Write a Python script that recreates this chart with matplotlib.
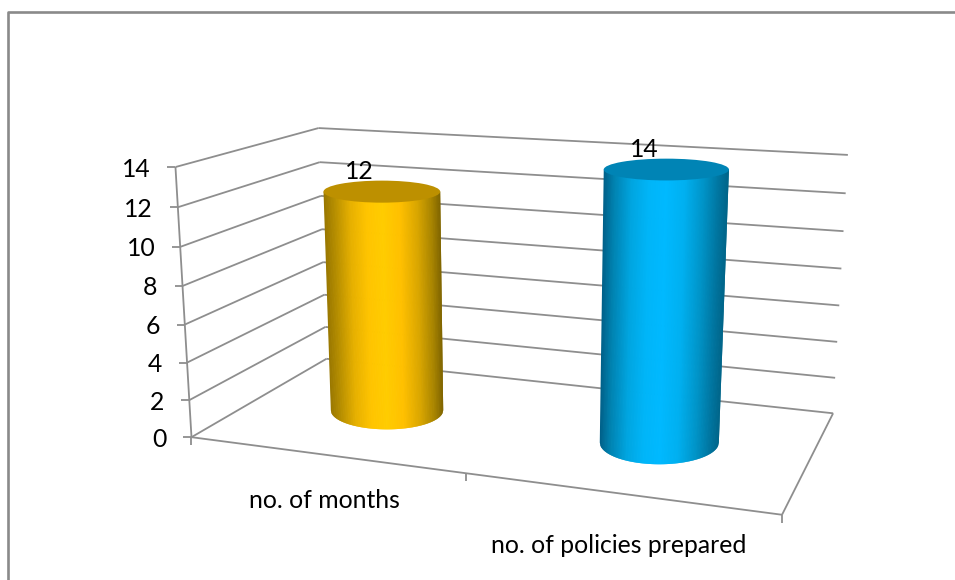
import numpy as np
import matplotlib
matplotlib.use("Agg")
import matplotlib.pyplot as plt
from matplotlib.collections import PolyCollection
from matplotlib.colors import LinearSegmentedColormap
from matplotlib.patches import Ellipse

categories = ["no. of months", "no. of policies prepared"]
values = [12, 14]
y_ticks = [0, 2, 4, 6, 8, 10, 12, 14]

GRID = "#8e8e8e"
SHADE_POS = [0, 0.08, 0.22, 0.36, 0.5, 0.65, 0.8, 0.92, 1]
BAR_STYLES = [
    (["#9a7800", "#b48c00", "#e6b000", "#ffc400", "#ffcc00", "#ffc000", "#d9a600", "#a98500", "#7f6400"], "#bd9000"),
    (["#00618a", "#0082b0", "#00a5e0", "#00b5f8", "#00b9ff", "#00b0f0", "#0094c8", "#0075a0", "#006488"], "#0084b5"),
]
BAR_RADIUS_U = [0.22, 0.205]
BAR_RADIUS_D = 0.23
BAR_DEPTH = 0.49
FONT_SIZE = 17.8

# frame corners as (category pos, depth, value) -> pixel position
anchors = [
    ((0, 0, 0), (191, 437)),
    ((0, 0, 14), (176, 167)),
    ((0, 1, 0), (327, 359)),
    ((0, 1, 14), (318, 128)),
    ((2, 1, 0), (833, 413)),
    ((2, 1, 14), (848, 155)),
    ((2, 0, 0), (782, 515)),
]


def fit_camera(pairs):
    rows = []
    for (u, d, z), (px, py) in pairs:
        rows.append([u, d, z, 1, 0, 0, 0, 0, -px * u, -px * d, -px * z, -px])
        rows.append([0, 0, 0, 0, u, d, z, 1, -py * u, -py * d, -py * z, -py])
    return np.linalg.svd(np.array(rows, float))[2][-1].reshape(3, 4)


camera = fit_camera(anchors)


def project(u, d, z):
    p = camera @ np.array([u, d, z, 1.0])
    return p[0] / p[2], p[1] / p[2]


def seg(ax, a, b, lw=1.3, zorder=1):
    ax.plot([a[0], b[0]], [a[1], b[1]], color=GRID, lw=lw, zorder=zorder,
            solid_capstyle="butt")


def cap_size(u, radius_u, z):
    left = project(u - radius_u, BAR_DEPTH, z)
    right = project(u + radius_u, BAR_DEPTH, z)
    near = project(u, BAR_DEPTH - BAR_RADIUS_D, z)
    far = project(u, BAR_DEPTH + BAR_RADIUS_D, z)
    return abs(right[0] - left[0]) / 2, abs(near[1] - far[1]) / 2


def draw_cylinder(ax, u, radius_u, value, stops, cap_color):
    cmap = LinearSegmentedColormap.from_list("shade", list(zip(SHADE_POS, stops)))
    bx, by = project(u, BAR_DEPTH, 0)
    tx, ty = project(u, BAR_DEPTH, value)
    bw, bh = cap_size(u, radius_u, 0)
    tw, th = cap_size(u, radius_u, value)

    # side wall as vertical strips, each overlapped by the next to hide seams
    t = np.linspace(-1, 1, 161)
    arc = np.sqrt(1 - t ** 2)
    bottom_x, bottom_y = bx + bw * t, by + bh * arc
    top_x = tx + tw * t
    strips = []
    colors = []
    for i in range(len(t) - 1):
        j = min(i + 2, len(t) - 1)
        strips.append([(top_x[i], ty), (top_x[j], ty),
                       *zip(bottom_x[i:j + 1][::-1], bottom_y[i:j + 1][::-1])])
        colors.append(cmap((t[i] + 1) / 2))
    ax.add_collection(PolyCollection(strips, facecolors=colors, edgecolors="none",
                                     zorder=3))
    ax.add_patch(Ellipse((tx, ty), 2 * tw, 2 * th, facecolor=cap_color,
                         edgecolor="none", zorder=4))
    ax.text(tx - 22.5, ty - 20, str(value), ha="center", va="center",
            fontsize=FONT_SIZE, color="black", zorder=6)


plt.rcParams["font.family"] = ["Lato", "DejaVu Sans"]

fig = plt.figure(figsize=(9.55, 5.8), dpi=100)
ax = fig.add_axes([0, 0, 1, 1])
ax.set_xlim(0, 955)
ax.set_ylim(580, 0)
ax.axis("off")

# outer chart border, open on the right and bottom
ax.plot([8, 8, 955], [580, 12, 12], color="#8a8a8a", lw=1.9, zorder=1)

for tick in y_ticks:
    front = project(0, 0, tick)
    seg(ax, front, project(0, 1, tick))
    seg(ax, project(0, 1, tick), project(2, 1, tick))
    seg(ax, (front[0] - 8, front[1]), front)
    ax.text(front[0] - 25, front[1] + 2, str(tick), ha="right", va="center",
            fontsize=FONT_SIZE, color="black")

# value axis and floor outline
seg(ax, project(0, 0, 0), project(0, 0, 14))
seg(ax, project(0, 0, 0), project(2, 0, 0))
seg(ax, project(2, 0, 0), project(2, 1, 0))

for pos in range(len(categories) + 1):
    px, py = project(pos, 0, 0)
    seg(ax, (px, py), (px, py + 8))

for i, (name, value) in enumerate(zip(categories, values)):
    stops, cap_color = BAR_STYLES[i]
    draw_cylinder(ax, i + 0.5, BAR_RADIUS_U[i], value, stops, cap_color)
    px, py = project(i + 0.5, 0, 0)
    ax.text(px, py + 46 + i * 6, name, ha="center", va="center",
            fontsize=FONT_SIZE, color="black")

fig.savefig("out.png", dpi=100, facecolor="white")
